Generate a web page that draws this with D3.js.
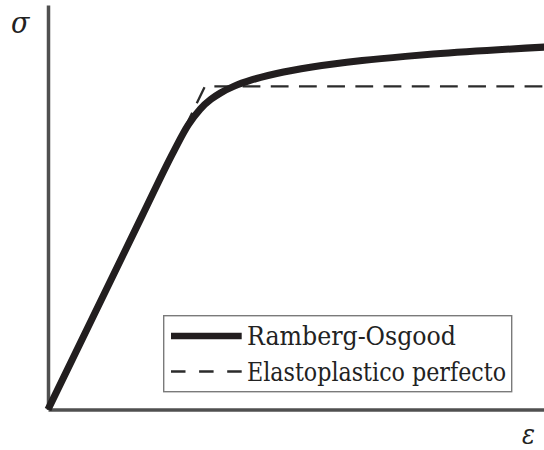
<!DOCTYPE html>
<html>
<head>
<meta charset="utf-8">
<script src="https://cdn.jsdelivr.net/npm/d3@7"></script>
<style>
  html, body { margin: 0; padding: 0; background: #ffffff; }
  svg { display: block; }
</style>
</head>
<body>
<svg id="chart" width="544" height="450"></svg>
<script>
// Ramberg-Osgood stress–strain curve, normalised by the yield point (ε/εy, σ/σy)
const roStrain = [0, 0.6, 0.802, 0.8925, 0.970, 1.038, 1.100, 1.183, 1.297, 1.355, 1.457, 1.682, 2.001, 2.277, 2.454, 3.174];
const roStress = [0, 0.6, 0.80, 0.88, 0.93, 0.96, 0.98, 1.00, 1.02, 1.028, 1.04, 1.06, 1.08, 1.093, 1.10, 1.122];

// Elastic–perfectly plastic idealisation
const epStrain = [0, 1, 3.3];
const epStress = [0, 1, 1];

const seriesLabels = ["Ramberg-Osgood", "Elastoplastico perfecto"];
const axisLabels = { x: "ε", y: "σ" };

const serifFont = "'DejaVu Serif Condensed', 'DejaVu Serif', 'Liberation Serif', serif";

const svg = d3.select("#chart");

const x = d3.scaleLinear().domain([0, 3.16]).range([48, 544]);
const y = d3.scaleLinear().domain([0, 1.252]).range([409.5, 5]);

// Plain axes: only the domain lines are drawn
const axisColor = "#505050";
const gx = svg.append("g").attr("transform", `translate(0,${y(0)})`)
  .call(d3.axisBottom(x).tickValues([]).tickSizeOuter(0));
const gy = svg.append("g").attr("transform", `translate(${x(0)},0)`)
  .call(d3.axisLeft(y).tickValues([]).tickSizeOuter(0));
[gx, gy].forEach(g => g.select(".domain")
  .attr("stroke", axisColor).attr("stroke-width", 3.5));

const roData = roStrain.map((e, i) => [e, roStress[i]]);
const epData = epStrain.map((e, i) => [e, epStress[i]]);

const line = d3.line().x(d => x(d[0])).y(d => y(d[1]));

// Dashed elastoplastic reference
svg.append("path")
  .datum(epData)
  .attr("d", line)
  .attr("fill", "none")
  .attr("stroke", "#2b2b2b")
  .attr("stroke-width", 2.3)
  .attr("stroke-dasharray", "17.8,10.4")
  .attr("stroke-dashoffset", -2);

// Ramberg-Osgood curve
svg.append("path")
  .datum(roData)
  .attr("d", line.curve(d3.curveMonotoneX))
  .attr("fill", "none")
  .attr("stroke", "#221e1f")
  .attr("stroke-width", 7)
  .attr("stroke-linejoin", "round");

// Axis symbols
svg.append("text")
  .attr("x", 11).attr("y", 33)
  .attr("font-family", serifFont)
  .attr("font-style", "italic")
  .attr("font-size", 30)
  .attr("fill", "#222")
  .text(axisLabels.y);
svg.append("text")
  .attr("x", 522).attr("y", 444)
  .attr("font-family", serifFont)
  .attr("font-style", "italic")
  .attr("font-size", 27)
  .attr("fill", "#222")
  .text(axisLabels.x);

// Legend
const legend = svg.append("g");
legend.append("rect")
  .attr("x", 163.7).attr("y", 315.7)
  .attr("width", 348).attr("height", 76)
  .attr("fill", "#ffffff")
  .attr("stroke", "#7a7a7a")
  .attr("stroke-width", 1.4);

const rowY = [336, 371.5];
const textWidths = [209, 259];

legend.append("line")
  .attr("x1", 171).attr("x2", 241.7)
  .attr("y1", rowY[0]).attr("y2", rowY[0])
  .attr("stroke", "#221e1f").attr("stroke-width", 6.5);
legend.append("line")
  .attr("x1", 171).attr("x2", 241.7)
  .attr("y1", rowY[1]).attr("y2", rowY[1])
  .attr("stroke", "#2b2b2b").attr("stroke-width", 2.3)
  .attr("stroke-dasharray", "14.5,13.6");

seriesLabels.forEach((lab, i) => {
  legend.append("text")
    .attr("x", 247).attr("y", rowY[i] + 9)
    .attr("font-family", serifFont)
    .attr("font-size", 26)
    .attr("fill", "#222")
    .attr("textLength", textWidths[i])
    .attr("lengthAdjust", "spacingAndGlyphs")
    .text(lab);
});
</script>
</body>
</html>
